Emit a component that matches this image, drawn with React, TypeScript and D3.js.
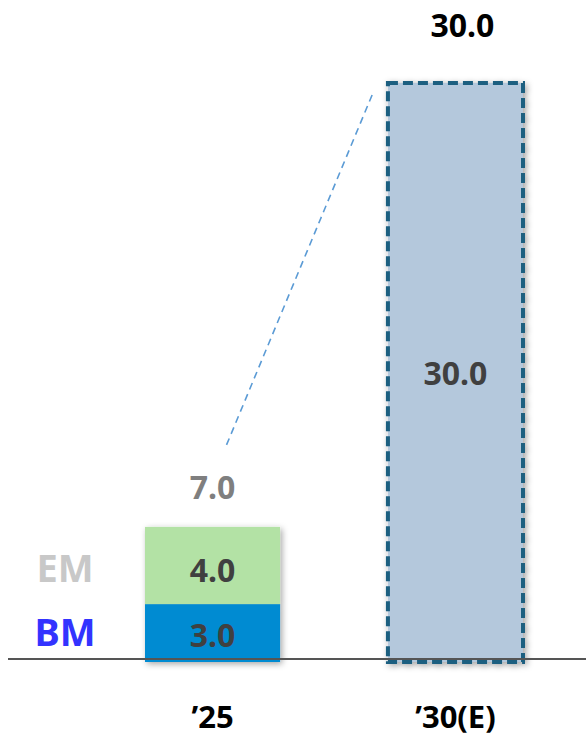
import React from "react";
import * as d3 from "d3";

// data
const categories = ["'25", "'30(E)"];
const bmValues = [3.0, 0];
const emValues = [4.0, 0];
const targetValues = [0, 30.0];
const seriesNames = ["EM", "BM"];

const W = 586;
const H = 738;
const FONT = "'Noto Sans', 'Open Sans', sans-serif";

const App = () => {
  const x = d3.scaleBand<string>().domain(categories).range([145, 523]).paddingInner(0.444).paddingOuter(0);
  const y = d3.scaleLinear().domain([0, 30]).range([662, 83]);
  const bw = x.bandwidth();

  const totals = categories.map((_, i) => bmValues[i] + emValues[i]);

  const stack = d3.stack<any>().keys(["bm", "em"])(
    categories.map((c, i) => ({ c, bm: bmValues[i], em: emValues[i] }))
  );
  const stackColors: Record<string, string> = { bm: "#008bd2", em: "#b3e2a5" };

  const x0 = x(categories[0])!;
  const x1 = x(categories[1])!;

  // connector between the two bars
  const lineStart: [number, number] = [x0 + bw / 2 + 14, y(totals[0]) - 82];
  const lineEnd: [number, number] = [x1 - 15, y(targetValues[1]) + 10];

  return (
    <svg width={W} height={H} style={{ position: "absolute", left: 0, top: 0 }} fontFamily={FONT}>
      <defs>
        <filter id="shadow" x="-20%" y="-20%" width="140%" height="140%">
          <feDropShadow dx="2" dy="2" stdDeviation="3" floodColor="#000" floodOpacity="0.35" />
        </filter>
      </defs>

      {/* stacked bar '25 */}
      <g filter="url(#shadow)">
        {stack.map(s =>
          s.filter((d, i) => i === 0).map((d, i) => (
            <rect
              key={s.key + i}
              x={x0}
              y={y(d[1])}
              width={bw}
              height={y(d[0]) - y(d[1])}
              fill={stackColors[s.key]}
            />
          ))
        )}
      </g>

      {/* target bar '30(E) */}
      <rect
        x={x1}
        y={y(targetValues[1])}
        width={bw}
        height={y(0) - y(targetValues[1])}
        fill="#b4c8dc"
        stroke="#1b5e80"
        strokeWidth={4}
        strokeDasharray="10,5"
        filter="url(#shadow)"
      />

      {/* axis line */}
      <line x1={8} x2={W} y1={y(0) - 3} y2={y(0) - 3} stroke="#555" strokeWidth={2} />

      {/* connector */}
      <line
        x1={lineStart[0]}
        y1={lineStart[1]}
        x2={lineEnd[0]}
        y2={lineEnd[1]}
        stroke="#5b9bd5"
        strokeWidth={1.6}
        strokeDasharray="7,5"
      />

      {/* value labels */}
      <g fontWeight={700} fontSize={32} textAnchor="middle">
        <text x={x0 + bw / 2} y={y(bmValues[0]) + 43} fill="#404040">{bmValues[0].toFixed(1)}</text>
        <text x={x0 + bw / 2} y={y(totals[0]) + 55} fill="#404040">{emValues[0].toFixed(1)}</text>
        <text x={x0 + bw / 2} y={y(totals[0]) - 28} fill="#7f7f7f">{totals[0].toFixed(1)}</text>
        <text x={x1 + bw / 2} y={y(targetValues[1] / 2) + 12} fill="#404040">{targetValues[1].toFixed(1)}</text>
        <text x={x1 + bw / 2 + 7} y={37} fill="#000">{targetValues[1].toFixed(1)}</text>
      </g>

      {/* series names */}
      <g fontWeight={700} fontSize={38} textAnchor="middle">
        <text x={65} y={y(totals[0]) + 55} fill="#c8c8c8">{seriesNames[0]}</text>
        <text x={65} y={y(bmValues[0]) + 42} fill="#3333ff">{seriesNames[1]}</text>
      </g>

      {/* category labels */}
      <g fontWeight={700} fontSize={31} textAnchor="middle" fill="#000">
        {categories.map(c => (
          <text key={c} x={x(c)! + bw / 2} y={728}>{c.replace("'", "\u2019")}</text>
        ))}
      </g>
    </svg>
  );
};

export default App;
